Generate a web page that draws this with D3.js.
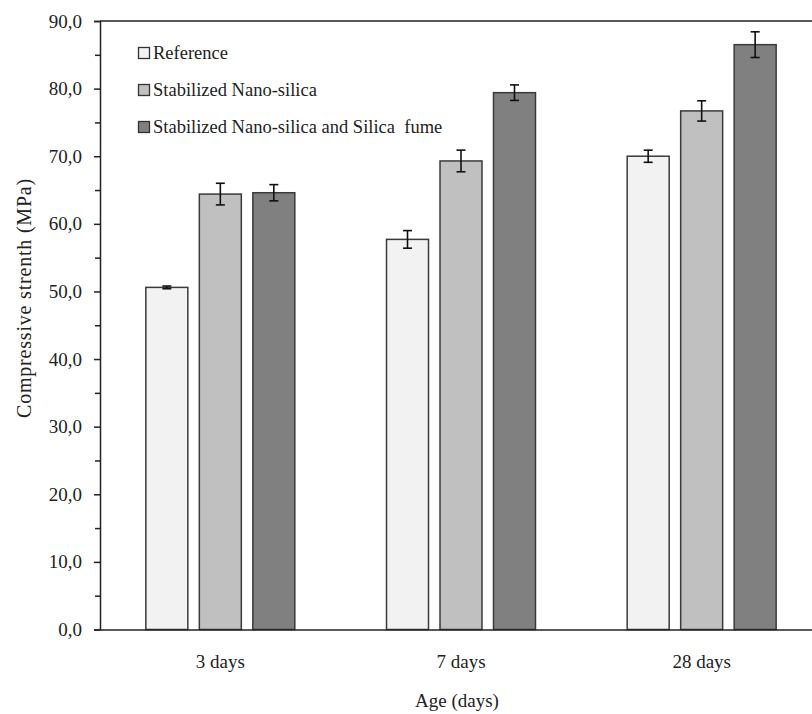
<!DOCTYPE html>
<html>
<head>
<meta charset="utf-8">
<script src="https://cdn.jsdelivr.net/npm/d3@7"></script>
<style>
  html, body { margin: 0; padding: 0; background: #fff; }
  svg { display: block; }
  text { font-family: "Liberation Serif", "Times New Roman", serif; fill: #222; }
</style>
</head>
<body>
<svg id="chart" width="812" height="714"></svg>
<script>
// ---- data ----
const categories = ["3 days", "7 days", "28 days"];
const seriesNames = ["Reference", "Stabilized Nano-silica", "Stabilized Nano-silica and Silica  fume"];
const referenceValues = [50.6, 57.7, 70.0];
const nanoSilicaValues = [64.4, 69.3, 76.7];
const silicaFumeValues = [64.6, 79.4, 86.5];
const referenceErrors = [0.2, 1.3, 0.9];
const nanoSilicaErrors = [1.6, 1.6, 1.5];
const silicaFumeErrors = [1.2, 1.15, 1.9];
const yTickValues = [0, 10, 20, 30, 40, 50, 60, 70, 80, 90];
const yTickLabels = ["0,0", "10,0", "20,0", "30,0", "40,0", "50,0", "60,0", "70,0", "80,0", "90,0"];
const yMinorTicks = [5, 15, 25, 35, 45, 55, 65, 75, 85];

const seriesValues = [referenceValues, nanoSilicaValues, silicaFumeValues];
const seriesErrors = [referenceErrors, nanoSilicaErrors, silicaFumeErrors];
const fills = ["#f2f2f2", "#c0c0c0", "#808080"];

// ---- layout ----
const svg = d3.select("#chart");
const mLeft = 100, mRight = 822, mTop = 21, mBottom = 629.5;

const x = d3.scaleBand().domain(categories).range([mLeft, mRight]).paddingInner(0.381).paddingOuter(0.1905);
const xs = d3.scaleBand().domain(d3.range(seriesNames.length)).range([0, x.bandwidth()]).paddingInner(0.215).paddingOuter(0);
const y = d3.scaleLinear().domain([0, 90]).range([mBottom, mTop]);

// frame (top border + right border off-canvas)
svg.append("line").attr("x1", mLeft).attr("x2", mRight).attr("y1", mTop).attr("y2", mTop)
  .attr("stroke", "#222").attr("stroke-width", 1.5);
svg.append("line").attr("x1", mRight).attr("x2", mRight).attr("y1", mTop).attr("y2", mBottom)
  .attr("stroke", "#222").attr("stroke-width", 1.5);

// bars
const data = [];
categories.forEach((c, ci) => {
  seriesNames.forEach((s, si) => {
    data.push({ c, si, v: seriesValues[si][ci], e: seriesErrors[si][ci] });
  });
});

svg.append("g").selectAll("rect").data(data).join("rect")
  .attr("x", d => x(d.c) + xs(d.si))
  .attr("y", d => y(d.v))
  .attr("width", xs.bandwidth())
  .attr("height", d => y(0) - y(d.v))
  .attr("fill", d => fills[d.si])
  .attr("stroke", "#3a3a3a")
  .attr("stroke-width", 1.5);

// error bars
const eg = svg.append("g").attr("stroke", "#111").attr("stroke-width", 1.6);
data.forEach(d => {
  const cx = x(d.c) + xs(d.si) + xs.bandwidth() / 2;
  const y1 = y(d.v + d.e), y2 = y(d.v - d.e);
  eg.append("line").attr("x1", cx).attr("x2", cx).attr("y1", y1).attr("y2", y2);
  eg.append("line").attr("x1", cx - 4.5).attr("x2", cx + 4.5).attr("y1", y1).attr("y2", y1);
  eg.append("line").attr("x1", cx - 4.5).attr("x2", cx + 4.5).attr("y1", y2).attr("y2", y2);
});

// y axis
const yAxis = d3.axisLeft(y).tickValues(yTickValues).tickSize(6).tickPadding(12)
  .tickFormat((d, i) => yTickLabels[i]);
const ya = svg.append("g").attr("transform", `translate(${mLeft},0)`).call(yAxis);
ya.select(".domain").attr("stroke", "#222").attr("stroke-width", 1.5);
ya.selectAll(".tick line").attr("stroke", "#222").attr("stroke-width", 1.5);
ya.selectAll(".tick text").attr("font-size", "19px")
  .attr("font-family", "'Liberation Serif', 'Times New Roman', serif").attr("fill", "#222");

const yMinor = d3.axisLeft(y).tickValues(yMinorTicks).tickSize(5).tickFormat("");
const ym = svg.append("g").attr("transform", `translate(${mLeft},0)`).call(yMinor);
ym.select(".domain").remove();
ym.selectAll(".tick line").attr("stroke", "#222").attr("stroke-width", 1.5);

// x axis
const xAxis = d3.axisBottom(x).tickSize(0).tickPadding(0);
const xa = svg.append("g").attr("transform", `translate(0,${mBottom})`).call(xAxis);
xa.select(".domain").attr("stroke", "#222").attr("stroke-width", 1.5);
xa.selectAll(".tick text").attr("font-size", "19px")
  .attr("font-family", "'Liberation Serif', 'Times New Roman', serif").attr("fill", "#222")
  .attr("dy", null).attr("y", 38.5);

// axis titles
svg.append("text").attr("x", (mLeft + mRight) / 2 - 4).attr("y", 707)
  .attr("text-anchor", "middle").attr("font-size", "19px").text("Age (days)");
svg.append("text").attr("transform", "translate(31,298) rotate(-90)")
  .attr("text-anchor", "middle").attr("font-size", "20px").attr("letter-spacing", "0.8px")
  .text("Compressive strenth (MPa)");

// legend
const lg = svg.append("g");
seriesNames.forEach((s, i) => {
  const cy = 53 + i * 37;
  lg.append("rect").attr("x", 138.5).attr("y", cy - 5.5).attr("width", 11).attr("height", 11)
    .attr("fill", fills[i]).attr("stroke", "#333").attr("stroke-width", 1.3);
  lg.append("text").attr("x", 153).attr("y", cy + 6).attr("font-size", "18.5px")
    .attr("xml:space", "preserve").style("white-space", "pre").text(s);
});
</script>
</body>
</html>
